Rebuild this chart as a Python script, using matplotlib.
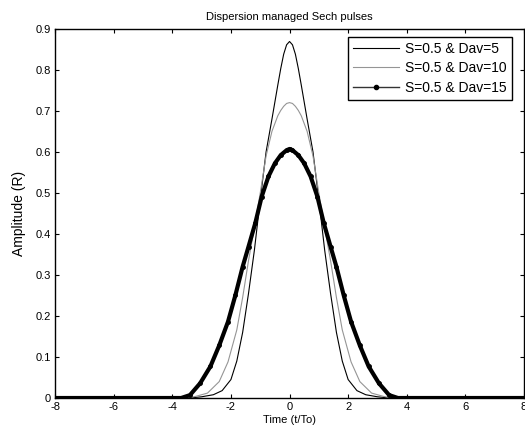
import matplotlib
matplotlib.use('Agg')
from matplotlib import pyplot as plt
from matplotlib.lines import Line2D

plt.rcParams['font.family'] = ['Liberation Sans', 'DejaVu Sans']
plt.rcParams['font.size'] = 8

# S=0.5 & Dav=5
t5 = [-8, -3.4, -3.0, -2.6, -2.3, -2.0, -1.8, -1.6, -1.4, -1.2, -1.0, -0.8, -0.6, -0.4, -0.3, -0.2, -0.1, 0,
      0.1, 0.2, 0.3, 0.4, 0.6, 0.8, 1.0, 1.2, 1.4, 1.6, 1.8, 2.0, 2.3, 2.6, 3.0, 3.4, 8]
a5 = [0, 0, 0.003, 0.008, 0.018, 0.045, 0.09, 0.16, 0.255, 0.36, 0.483, 0.60, 0.68, 0.763, 0.803, 0.838, 0.861, 0.869,
      0.861, 0.838, 0.803, 0.763, 0.68, 0.60, 0.483, 0.36, 0.255, 0.16, 0.09, 0.045, 0.018, 0.008, 0.003, 0, 0]

# S=0.5 & Dav=10
t10 = [-8, -3.5, -3.2, -2.8, -2.4, -2.1, -1.8, -1.6, -1.4, -1.2, -1.0, -0.8, -0.6, -0.4, -0.3, -0.2, -0.1, 0,
       0.1, 0.2, 0.3, 0.4, 0.6, 0.8, 1.0, 1.2, 1.4, 1.6, 1.8, 2.1, 2.4, 2.8, 3.2, 3.5, 8]
a10 = [0, 0, 0.004, 0.012, 0.04, 0.088, 0.166, 0.245, 0.335, 0.415, 0.50, 0.59, 0.65, 0.688, 0.701, 0.711, 0.718, 0.72,
       0.718, 0.711, 0.701, 0.688, 0.65, 0.59, 0.50, 0.415, 0.335, 0.245, 0.166, 0.088, 0.04, 0.012, 0.004, 0, 0]

# S=0.5 & Dav=15
t15 = [-8, -7, -6, -5, -4, -3.7, -3.4, -3.05, -2.7, -2.4, -2.1, -1.85, -1.6, -1.4, -1.17, -0.95, -0.72, -0.5, -0.3, -0.1, 0,
       0.1, 0.3, 0.5, 0.72, 0.95, 1.17, 1.4, 1.6, 1.85, 2.1, 2.4, 2.7, 3.05, 3.4, 3.7, 4, 5, 6, 7, 8]
a15 = [0, 0, 0, 0, 0, 0, 0.007, 0.036, 0.077, 0.128, 0.186, 0.25, 0.32, 0.369, 0.426, 0.491, 0.54, 0.572, 0.592, 0.604, 0.607,
       0.604, 0.592, 0.572, 0.54, 0.491, 0.426, 0.369, 0.32, 0.25, 0.186, 0.128, 0.077, 0.036, 0.007, 0, 0, 0, 0, 0, 0]

xticks = [-8, -6, -4, -2, 0, 2, 4, 6, 8]
xticklabels = ['-8', '-6', '-4', '-2', '0', '2', '4', '6', '8']
yticks = [0, 0.1, 0.2, 0.3, 0.4, 0.5, 0.6, 0.7, 0.8, 0.9]
yticklabels = ['0', '0.1', '0.2', '0.3', '0.4', '0.5', '0.6', '0.7', '0.8', '0.9']
labels = ['S=0.5 & Dav=5', 'S=0.5 & Dav=10', 'S=0.5 & Dav=15']

fig = plt.figure(figsize=(5.25, 4.38), dpi=100)
ax = fig.add_axes([0.105, 0.0913, 0.893, 0.843])

h1, = ax.plot(t5, a5, color='k', lw=0.8)
h2, = ax.plot(t10, a10, color='#959595', lw=0.8)
ax.plot(t15, a15, color='k', lw=3.0, marker='.', ms=5)
h3 = Line2D([], [], color='#333333', lw=1.0, marker='.', ms=6, markerfacecolor='k', markeredgecolor='k')

ax.set_xlim(-8, 8)
ax.set_ylim(0, 0.9)
ax.set_xticks(xticks, xticklabels)
ax.set_yticks(yticks, yticklabels)
ax.tick_params(direction='in', top=True, right=True, length=3, width=0.8, pad=3)
for s in ax.spines.values():
    s.set_linewidth(1.0)

ax.set_title('Dispersion managed Sech pulses', fontsize=8, pad=6)
ax.set_xlabel('Time (t/To)', labelpad=2)
ax.set_ylabel('Amplitude (R)', fontsize=10, labelpad=7)

leg = ax.legend([h1, h2, h3], labels, loc='upper right', bbox_to_anchor=(0.974, 0.978),
                fancybox=False, edgecolor='k', framealpha=1, handlelength=3.3, fontsize=10,
                borderaxespad=0, labelspacing=0.4, handletextpad=0.45, borderpad=0.35)
leg.get_frame().set_linewidth(1.0)

fig.savefig('out.png', dpi=100)
